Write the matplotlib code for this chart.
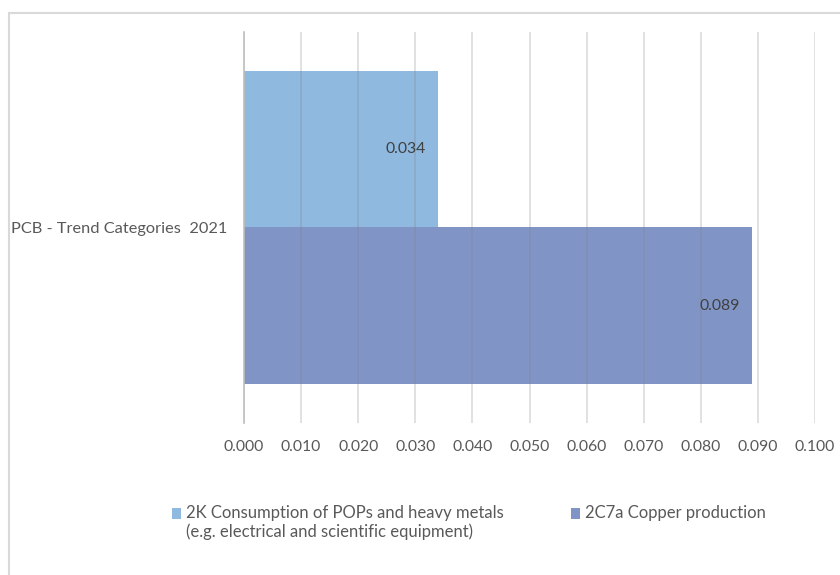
import matplotlib.pyplot as plt
from matplotlib.patches import Rectangle
import numpy as np

# données
categorie = "PCB - Trend Categories  2021"
series = ["2K Consumption of POPs and heavy metals\n(e.g. electrical and scientific equipment)",
          "2C7a Copper production"]
valeurs = [0.034, 0.089]
couleurs = ["#8FB9DE", "#8094C5"]
graduations = np.arange(0, 0.1001, 0.01)

plt.rcParams['font.family'] = ['Lato', 'DejaVu Sans']

fig = plt.figure(figsize=(8.4, 5.75), dpi=100)
ax = fig.add_axes([244/840, 1 - 423/575, (815 - 244)/840, (423 - 32)/575])

hauteur = 0.4
positions = [0.2, -0.2]
for pos, val, coul, nom in zip(positions, valeurs, couleurs, series):
    ax.barh(pos, val, height=hauteur, color=coul, label=nom, zorder=1)
    ax.annotate(f"{val:.3f}", xy=(val, pos), xytext=(-9, 0), textcoords="offset points",
                ha="right", va="center", fontsize=11.3, color="#404040", zorder=3)

ax.set_xlim(0, 0.1)
ax.set_ylim(-0.5, 0.5)
ax.set_xticks(graduations)
ax.set_xticklabels([f"{g:.3f}" for g in graduations])
ax.set_yticks([0])
ax.set_yticklabels([categorie])
ax.tick_params(axis="both", length=0, labelsize=11.3, labelcolor="#595959")
ax.tick_params(axis="x", pad=12)
ax.tick_params(axis="y", pad=12)
for t in ax.get_yticklabels():
    t.set_fontsize(11.8)

ax.grid(axis="x", color="#808080", alpha=0.28, linewidth=1.2, zorder=2)
ax.set_axisbelow(False)
for s in ["top", "right", "bottom"]:
    ax.spines[s].set_visible(False)
ax.spines["left"].set_color("#BFBFBF")
ax.spines["left"].set_linewidth(1.2)
ax.spines["left"].set_zorder(4)

leg = fig.legend(loc="upper left", bbox_to_anchor=(172/840, 1 - 505/575), ncol=2, frameon=False,
                 fontsize=12, labelcolor="#595959", handlelength=0.55, handleheight=0.55,
                 handletextpad=0.3, columnspacing=4.0, borderpad=0, borderaxespad=0)
# aligner les carrés et les colonnes sur la première ligne
leg._legend_handle_box.align = "top"
for col in leg._legend_handle_box.get_children():
    for entree in col.get_children():
        entree.align = "top"
for carre in leg.get_patches():
    carre.set_y(carre.get_y() - 2.5)

# cadre du graphique
fig.add_artist(Rectangle((9/840, -0.1), 1.2, 1 - 13/575 + 0.1, transform=fig.transFigure,
                         fill=False, edgecolor="#D9D9D9", linewidth=1.5))

fig.savefig("out.png", dpi=100)
